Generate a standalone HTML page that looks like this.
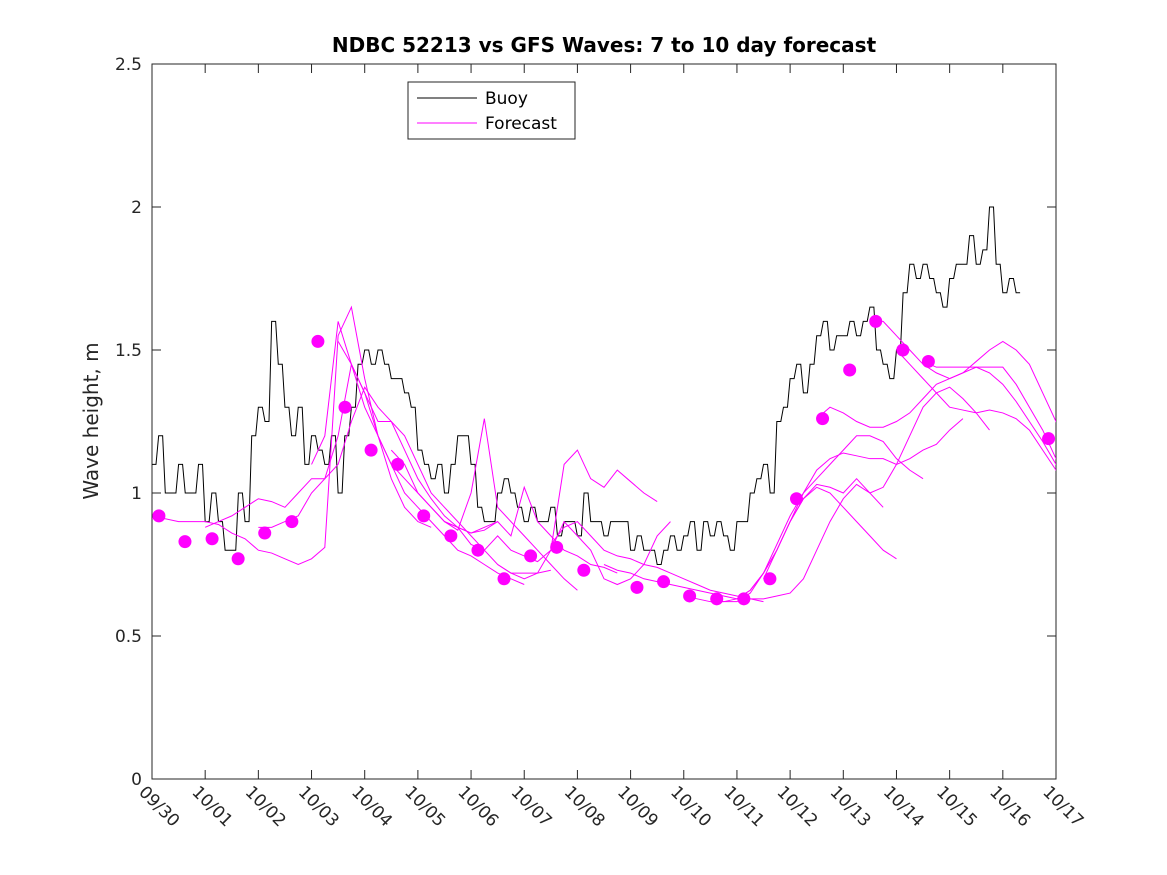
<!DOCTYPE html>
<html><head><meta charset="utf-8"><style>
html,body{margin:0;padding:0;background:#fff;}
svg{display:block;font-family:"DejaVu Sans","Liberation Sans",sans-serif;}
</style></head><body>
<svg id="chart" width="1167" height="875" viewBox="0 0 1167 875">
<defs><clipPath id="clip"><rect x="152" y="64" width="904" height="715"/></clipPath></defs>
<rect width="1167" height="875" fill="#fff"/>
<text x="604" y="52" text-anchor="middle" font-size="20" font-weight="bold" fill="#000">NDBC 52213 vs GFS Waves: 7 to 10 day forecast</text>
<text transform="translate(98,421) rotate(-90)" text-anchor="middle" font-size="20" fill="#262626">Wave height, m</text>
<g id="plot"></g>
<g>
<rect x="408" y="82" width="167" height="57" fill="#fff" stroke="#262626" stroke-width="1"/>
<line x1="417" y1="98" x2="477" y2="98" stroke="#000" stroke-width="1"/>
<text x="485" y="104" font-size="17" fill="#000">Buoy</text>
<line x1="417" y1="123" x2="477" y2="123" stroke="#f0f" stroke-width="1"/>
<text x="485" y="129" font-size="17" fill="#000">Forecast</text>
</g>
</svg>
<script>
const xTickLabels=["09/30","10/01","10/02","10/03","10/04","10/05","10/06","10/07","10/08","10/09","10/10","10/11","10/12","10/13","10/14","10/15","10/16","10/17"];
const yTicks=[0,0.5,1,1.5,2,2.5];
const yTickLabels=["0","0.5","1","1.5","2","2.5"];
const buoyStart=0, buoyStep=0.125;
const buoyValues=[
1.1,1.2,1.0,1.0,1.1,1.0,1.0,1.1,
0.9,1.0,0.9,0.8,0.8,1.0,0.9,1.2,
1.3,1.25,1.6,1.45,1.3,1.2,1.3,1.1,
1.2,1.15,1.1,1.2,1.0,1.2,1.3,1.45,
1.5,1.45,1.5,1.45,1.4,1.4,1.35,1.3,
1.15,1.1,1.05,1.1,1.0,1.1,1.2,1.2,
1.1,0.95,0.9,0.9,1.0,1.05,1.0,0.95,
0.9,0.95,0.9,0.9,0.95,0.85,0.9,0.9,
0.85,1.0,0.9,0.9,0.85,0.9,0.9,0.9,
0.8,0.85,0.8,0.8,0.75,0.8,0.85,0.8,
0.85,0.9,0.8,0.9,0.85,0.9,0.85,0.8,
0.9,0.9,1.0,1.05,1.1,1.0,1.25,1.3,
1.4,1.45,1.35,1.45,1.55,1.6,1.5,1.55,
1.55,1.6,1.55,1.6,1.65,1.5,1.45,1.4,
1.5,1.7,1.8,1.75,1.8,1.75,1.7,1.65,
1.75,1.8,1.8,1.9,1.8,1.85,2.0,1.8,
1.7,1.75,1.7];
const dotDays=[0.13,0.62,1.13,1.62,2.12,2.63,3.12,3.63,4.12,4.62,5.11,5.62,6.13,6.62,7.12,7.61,8.12,9.12,9.62,10.11,10.62,11.13,11.62,12.12,12.61,13.12,13.61,14.12,14.6,16.86];
const dotValues=[0.92,0.83,0.84,0.77,0.86,0.90,1.53,1.30,1.15,1.10,0.92,0.85,0.80,0.70,0.78,0.81,0.73,0.67,0.69,0.64,0.63,0.63,0.70,0.98,1.26,1.43,1.60,1.50,1.46,1.19];
const fcStep=0.25;
const fcStarts=[0,1,2,3,3.5,4.5,5.5,6.5,7.5,8.5,10,10.5,11,11.5,12.5,13.5,14,14.5];
const fc0=[0.91,0.91,0.9,0.9,0.9,0.89,0.86,0.84,0.8,0.79,0.77,0.75,0.77,0.81,1.55,1.65,1.4,1.2,1.05,0.95,0.9,0.88];
const fc1=[0.88,0.9,0.92,0.95,0.98,0.97,0.95,1.0,1.05,1.05,1.1,1.25,1.37,1.3,1.25,1.15,1.05,0.98,0.92,0.88,0.86,0.87,0.9];
const fc2=[0.88,0.88,0.9,0.92,1.0,1.05,1.2,1.45,1.35,1.2,1.1,1.0,0.95,0.9,0.85,0.8,0.78,0.75,0.72,0.7,0.68];
const fc3=[1.1,1.2,1.6,1.45,1.35,1.25,1.25,1.2,1.1,1.0,0.95,0.9,0.85,0.8,0.75,0.72,0.72,0.72,0.73];
const fc4=[1.53,1.45,1.3,1.2,1.1,1.05,1.0,0.95,0.9,0.87,1.0,1.26,0.95,0.9,0.85,0.8,0.75,0.7,0.66];
const fc5=[1.15,1.1,1.0,0.95,0.9,0.88,0.86,0.88,0.9,0.85,1.02,0.9,0.85,0.8,0.78,0.75,0.74,0.72];
const fc6=[0.9,0.88,0.82,0.8,0.85,0.8,0.78,0.76,0.8,0.9,0.85,0.8,0.7,0.68,0.7,0.75,0.85,0.9];
const fc7=[0.75,0.72,0.7,0.72,0.8,1.1,1.15,1.05,1.02,1.08,1.04,1.0,0.97];
const fc8=[0.82,0.88,0.9,0.85,0.8,0.78,0.77,0.75,0.74,0.72,0.7,0.68,0.66,0.65,0.64,0.63,0.62];
const fc9=[0.75,0.73,0.72,0.7,0.69,0.68,0.67,0.66,0.65,0.64,0.63,0.63,0.63,0.64,0.65,0.7,0.8,0.9,0.98,1.03,1.0,0.95];
const fc10=[0.64,0.63,0.62,0.62,0.63,0.66,0.72,0.8,0.9,0.98,1.02,1.0,0.95,0.9,0.85,0.8,0.77];
const fc11=[0.63,0.62,0.62,0.65,0.72,0.82,0.92,1.0,1.05,1.1,1.15,1.2,1.2,1.18,1.12,1.08,1.05];
const fc12=[0.63,0.66,0.72,0.8,0.9,1.0,1.08,1.12,1.14,1.13,1.12,1.12,1.1,1.12,1.15,1.17,1.22,1.26];
const fc13=[0.7,0.8,0.9,0.98,1.03,1.02,1.0,1.05,1.0,1.02,1.1,1.2,1.3,1.35,1.37,1.33,1.28,1.22];
const fc14=[1.26,1.3,1.28,1.25,1.23,1.23,1.25,1.28,1.33,1.38,1.4,1.42,1.44,1.44,1.44,1.38,1.3,1.22,1.12,1.05];
const fc15=[1.6,1.6,1.55,1.5,1.45,1.42,1.4,1.42,1.46,1.5,1.53,1.5,1.45,1.35,1.25,1.15,1.05];
const fc16=[1.5,1.45,1.4,1.35,1.3,1.29,1.28,1.29,1.28,1.26,1.22,1.15,1.08,1.0];
const fc17=[1.46,1.44,1.44,1.44,1.44,1.42,1.38,1.32,1.25,1.18,1.1,1.0];
const fcValues=[fc0,fc1,fc2,fc3,fc4,fc5,fc6,fc7,fc8,fc9,fc10,fc11,fc12,fc13,fc14,fc15,fc16,fc17];

const L=152,R=1056,T=64,B=779,DAYS=17,YMAX=2.5;
function xs(d){return L+(R-L)*d/DAYS;}
function ys(v){return B-(B-T)*v/YMAX;}
const NS="http://www.w3.org/2000/svg";
const plot=document.getElementById('plot');
function mk(tag,attrs,parent){const e=document.createElementNS(NS,tag);for(const k in attrs)e.setAttribute(k,attrs[k]);(parent||plot).appendChild(e);return e;}

const box=mk('rect',{x:L,y:T,width:R-L,height:B-T,fill:'none',stroke:'#262626','stroke-width':1});



xTickLabels.forEach((lab,i)=>{
  const x=xs(i);
  const t1=mk('line',{x1:x,y1:B,x2:x,y2:B-9,stroke:'#262626'});
  
  
  const t2=mk('line',{x1:x,y1:T,x2:x,y2:T+9,stroke:'#262626'});
  
  
  const tx=mk('text',{transform:`translate(${x-14},${B+14}) rotate(45)`,'font-size':17,fill:'#262626'});
  
  
  tx.textContent=lab;
});
yTicks.forEach((v,i)=>{
  const y=ys(v);
  const t1=mk('line',{x1:L,y1:y,x2:L+9,y2:y,stroke:'#262626'});
  
  
  const t2=mk('line',{x1:R,y1:y,x2:R-9,y2:y,stroke:'#262626'});
  
  
  const tx=mk('text',{x:L-10,y:y+6,'text-anchor':'end','font-size':17,fill:'#262626'});
  
  
  tx.textContent=yTickLabels[i];
});

const g=mk('g',{'clip-path':'url(#clip)'});



let bd='';
buoyValues.forEach((v,i)=>{
  const x0=xs(buoyStart+i*buoyStep),x1=xs(buoyStart+(i+0.6)*buoyStep),y=ys(v);
  bd+=(i===0?'M':'L')+x0+','+y+'L'+x1+','+y;
});
const bp=mk('path',{d:bd,fill:'none',stroke:'#000','stroke-width':1},g);



fcValues.forEach((arr,k)=>{
  const d=arr.map((v,i)=>(i?'L':'M')+xs(fcStarts[k]+i*fcStep)+','+ys(v)).join('');
  const p=mk('path',{d:d,fill:'none',stroke:'#f0f','stroke-width':1},g);
  
  
});

dotDays.forEach((d,i)=>{
  const c=mk('circle',{cx:xs(d),cy:ys(dotValues[i]),r:6.5,fill:'#f0f'});
  
  
});
</script>
</body></html>
